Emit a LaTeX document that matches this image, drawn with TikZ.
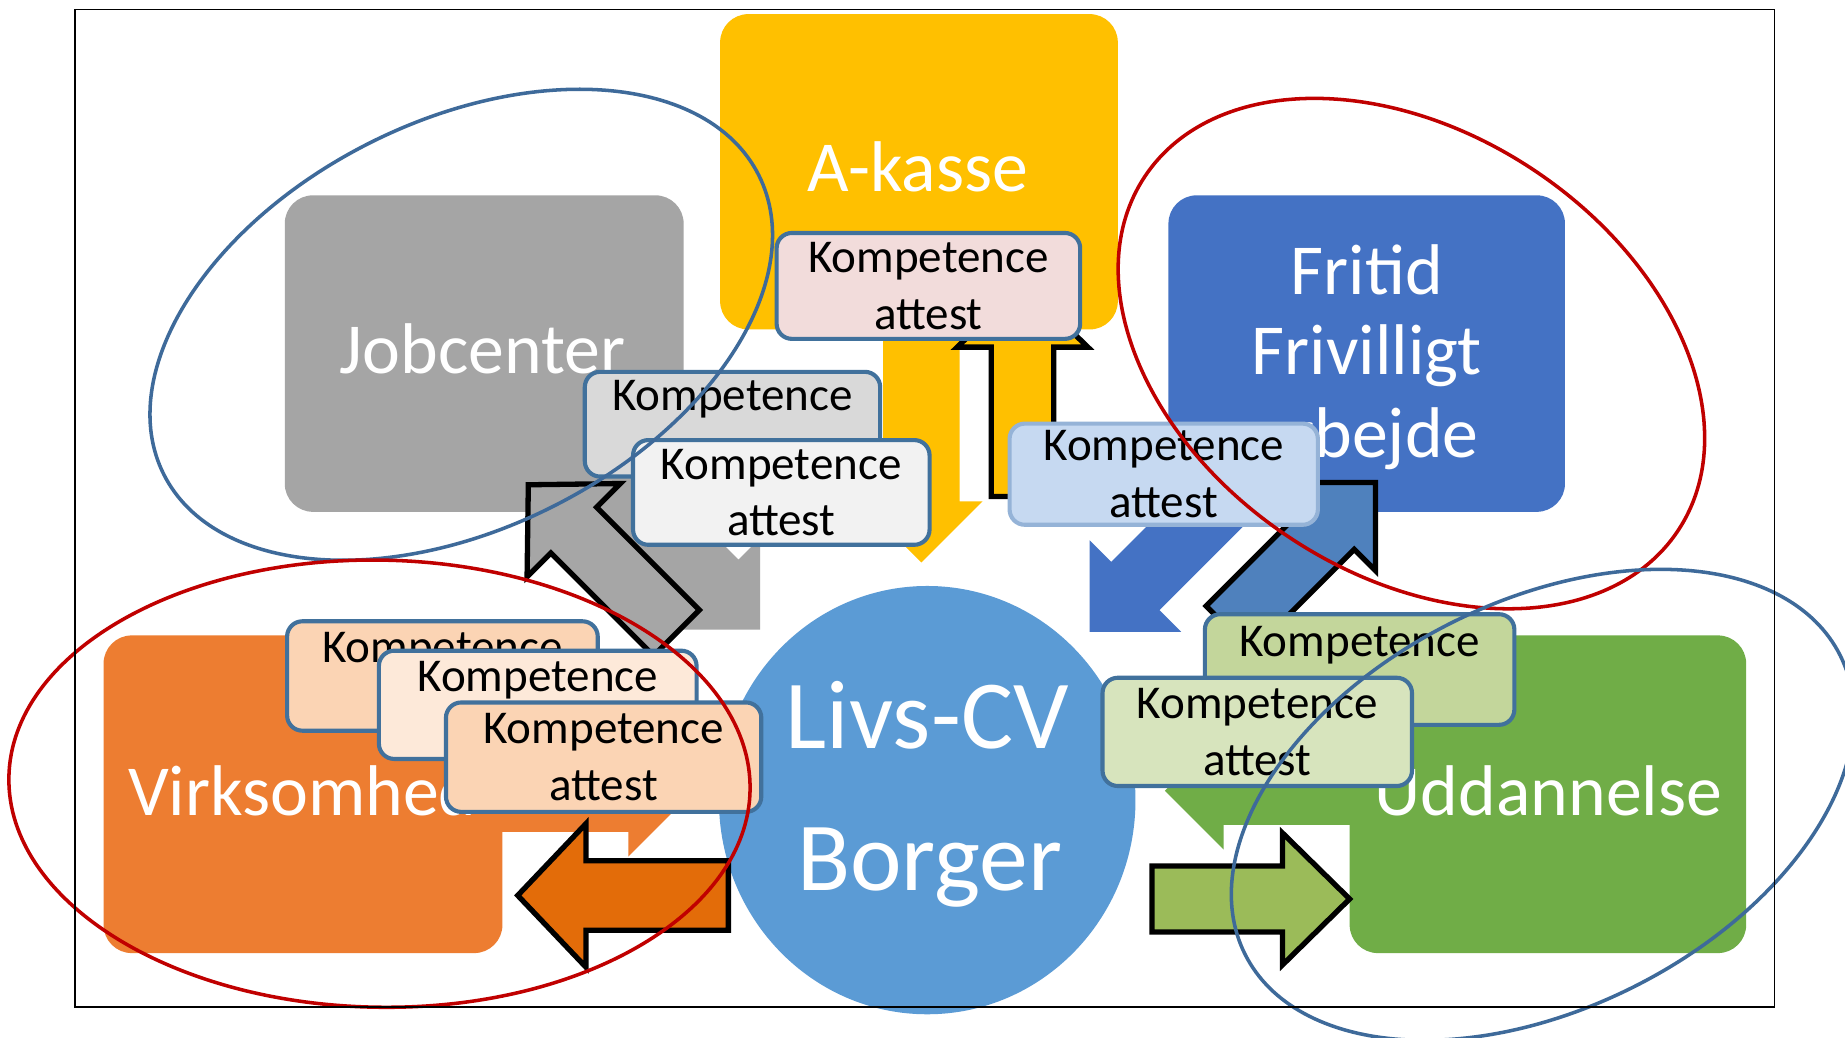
\documentclass[tikz,border=0pt]{standalone}
\usepackage{fontspec}
\setmainfont{Carlito}
\usetikzlibrary{shapes.geometric}
\definecolor{cakasse}{HTML}{FFC000}
\definecolor{cjob}{HTML}{A5A5A5}
\definecolor{cfri}{HTML}{4472C4}
\definecolor{cvirk}{HTML}{ED7D31}
\definecolor{cudd}{HTML}{70AD47}
\definecolor{ccv}{HTML}{5B9BD5}
\definecolor{kborder}{HTML}{41719C}
\definecolor{kborderlight}{HTML}{95B3D7}
\definecolor{kpink}{HTML}{F2DCDB}
\definecolor{kgray}{HTML}{D9D9D9}
\definecolor{kwhite}{HTML}{F2F2F2}
\definecolor{kblue}{HTML}{C6D9F1}
\definecolor{kgreen}{HTML}{C3D69B}
\definecolor{kgreenl}{HTML}{D7E4BD}
\definecolor{kpeach}{HTML}{FBD4B4}
\definecolor{kpeachl}{HTML}{FDE9D9}
\definecolor{agray}{HTML}{A6A6A6}
\definecolor{ablue}{HTML}{4F81BD}
\definecolor{aorange}{HTML}{E36C09}
\definecolor{agreen}{HTML}{9BBB59}
\definecolor{ellblue}{HTML}{3E6A9A}
\definecolor{ellred}{HTML}{C00000}
\newcommand\kompfont{\fontsize{40}{48}\selectfont}
\newcommand\boxfont{\fontsize{61}{70}\selectfont}
\newcommand\cvfont{\fontsize{83}{120}\selectfont}
% #1 style, #2 tip, #3 angle, #4 length, #5 head length, #6 head half width, #7 shaft half width
\newcommand\barrowshape[7]{%
  \path[#1, shift={#2}, rotate=#3] (0pt,0pt) -- (-#5pt,#6pt) -- (-#5pt,#7pt) -- (-#4pt,#7pt)
    -- (-#4pt,-#7pt) -- (-#5pt,-#7pt) -- (-#5pt,-#6pt) -- cycle;}
\begin{document}
\begin{tikzpicture}[x=1pt,y=-1pt,
  bigbox/.style={rectangle, rounded corners=24pt, inner sep=0pt},
  bigtext/.style={anchor=base, inner sep=0pt, text=white, font=\boxfont},
  cvtext/.style={anchor=base, inner sep=0pt, text=white, font=\cvfont},
  kbox/.style={rectangle, rounded corners=13pt, draw=kborder, line width=3.5pt, inner sep=0pt, align=center, font=\kompfont},
  outarrow/.style={draw=black, line width=4.5pt, line join=miter},
  ell/.style={line width=3pt}]
\clip (0,0) rectangle (1568,882);
\fill[white] (0,0) rectangle (1568,882);
% flat arrows (toward the centre)
\barrowshape{fill=cakasse}{(783,478)}{-90}{220}{52}{52}{32.5}
\barrowshape{fill=cjob}{(646,535)}{-45}{180}{55}{55}{29}
\barrowshape{fill=cfri}{(926,537)}{-135}{180}{55}{55}{29}
\barrowshape{fill=cvirk}{(584,678)}{0}{200}{50}{50}{29}
\barrowshape{fill=cudd}{(990,672)}{180}{200}{50}{50}{29}
% big boxes
\node[bigbox, fill=cakasse, minimum width=338pt, minimum height=268pt] (akasse) at (781,146) {};
\node[bigbox, fill=cjob, minimum width=339pt, minimum height=269pt] (jobcenter) at (411.5,300.5) {};
\node[bigbox, fill=cfri, minimum width=337pt, minimum height=269pt] (fritid) at (1161.5,300.5) {};
\node[bigbox, fill=cvirk, minimum width=339pt, minimum height=270pt] (virk) at (257.5,675) {};
\node[bigbox, fill=cudd, minimum width=337pt, minimum height=270pt] (udd) at (1315.5,675) {};
\node[ellipse, fill=ccv, minimum width=354pt, minimum height=364pt, inner sep=0pt] (cv) at (788,680) {};
\node[bigtext] (akassetext) at (780,163) {A-kasse};
\node[bigtext] (jobtext) at (410,317) {Jobcenter};
\node[bigtext] (fritid1) at (1161.5,250.5) {Fritid};
\node[bigtext] (fritid2) at (1161.5,318) {Frivilligt};
\node[bigtext] (fritid3) at (1161.5,388.5) {arbejde};
\node[bigtext] (virktext) at (257,693) {Virksomhed};
\node[bigtext] (uddtext) at (1316,693) {Uddannelse};
\node[cvtext] (cvtext1) at (788,636) {Livs-CV};
\node[cvtext] (cvtext2) at (790,756.5) {Borger};
% outlined arrows (outward)
\barrowshape{outarrow, fill=agray}{(449,412)}{135}{178}{54.5}{56}{27.5}
\barrowshape{outarrow, fill=ablue}{(1169,410)}{45}{176}{53}{53}{27.5}
\barrowshape{outarrow, fill=cakasse}{(869,241)}{90}{181}{54}{55.5}{26.5}
\barrowshape{outarrow, fill=aorange}{(440,761)}{180}{179}{58}{61}{29.5}
\barrowshape{outarrow, fill=agreen}{(1147,764)}{0}{168}{57}{56}{28}
% Kompetence boxes
\node[kbox, fill=kgray, minimum width=251pt, minimum height=89pt] (k2) at (622.5,360.5) {Kompetence\\\phantom{attest}};
\node[kbox, fill=kwhite, minimum width=252pt, minimum height=89pt] (k3) at (664,418.5) {Kompetence\\attest};
\node[kbox, fill=kpink, minimum width=258pt, minimum height=90pt] (k1) at (789,243) {Kompetence\\attest};
\node[kbox, draw=kborderlight, fill=kblue, minimum width=262pt, minimum height=86pt] (k4) at (989,403) {Kompetence\\attest};
\node[kbox, fill=kgreen, minimum width=263pt, minimum height=94pt] (k5) at (1155.5,569) {Kompetence\\\phantom{attest}};
\node[kbox, fill=kgreenl, minimum width=263pt, minimum height=92pt] (k6) at (1068.5,622) {Kompetence\\attest};
\node[kbox, fill=kpeach, minimum width=264pt, minimum height=93pt] (k7) at (376,574.5) {Kompetence\\\phantom{attest}};
\node[kbox, fill=kpeachl, minimum width=270pt, minimum height=92pt] (k8) at (457,599) {Kompetence\\\phantom{attest}};
\node[kbox, fill=kpeach, minimum width=268pt, minimum height=93pt] (k9) at (513,643.5) {Kompetence\\attest};
% ellipses
\draw[ell, ellblue, rotate around={26.7:(392,276)}] (392,276) ellipse [x radius=283pt, y radius=173pt];
\draw[ell, ellred, rotate around={-1:(322.5,666)}] (322.5,666) ellipse [x radius=315pt, y radius=190pt];
\draw[ell, ellred, rotate around={-33.6:(1199.5,300.5)}] (1199.5,300.5) ellipse [x radius=272pt, y radius=187.5pt];
\draw[ell, ellblue, rotate around={26.7:(1311,684)}] (1311,684) ellipse [x radius=283pt, y radius=173pt];
% frame
\draw[line width=1.5pt] (64,8) rectangle (1508,856);
\end{tikzpicture}
\end{document}
